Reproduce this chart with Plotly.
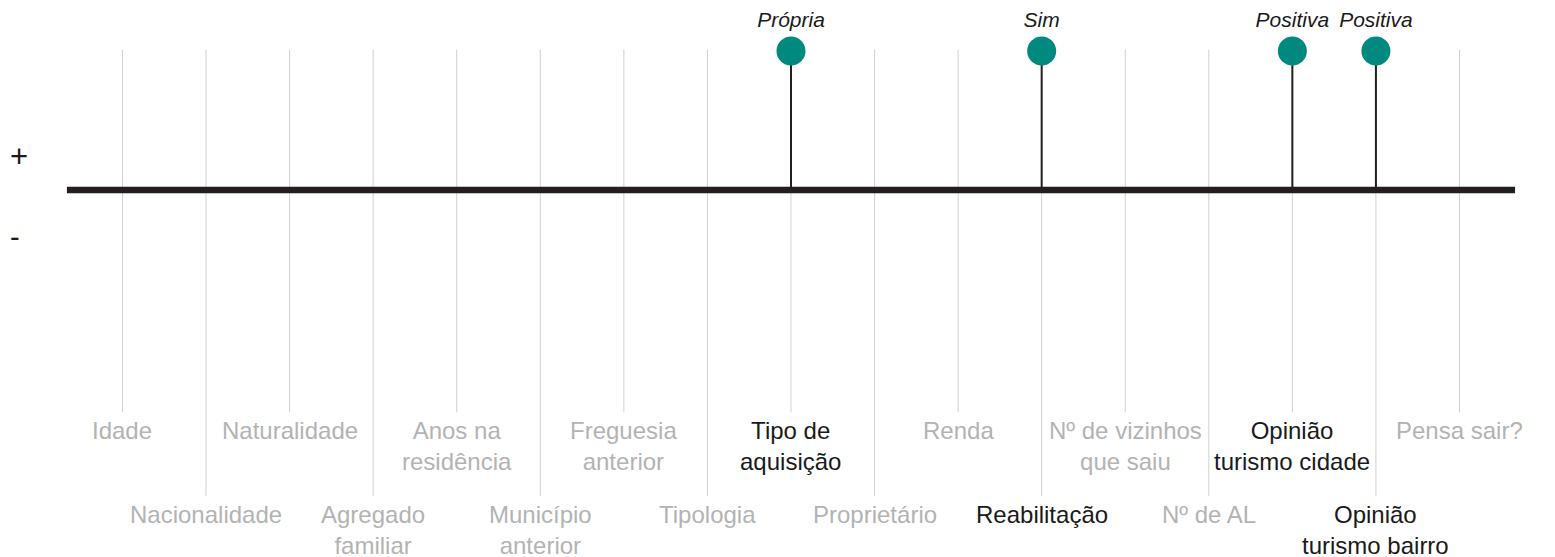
"""Lollipop strip: which household traits push towards a positive outcome."""
import plotly.graph_objects as go

CATEGORIES = [
    "Idade", "Nacionalidade", "Naturalidade", "Agregado<br>familiar",
    "Anos na<br>residência", "Município<br>anterior", "Freguesia<br>anterior",
    "Tipologia", "Tipo de<br>aquisição", "Proprietário", "Renda", "Reabilitação",
    "Nº de vizinhos<br>que saiu", "Nº de AL", "Opinião<br>turismo cidade",
    "Opinião<br>turismo bairro", "Pensa sair?",
]
EFFECT = [0, 0, 0, 0, 0, 0, 0, 0, 1, 0, 0, 1, 0, 0, 1, 1, 0]
EFFECT_LABEL = ["", "", "", "", "", "", "", "", "Própria", "", "", "Sim",
                "", "", "Positiva", "Positiva", ""]

TEAL = "#00897f"
INK = "#231f20"
GREY_TXT = "#b3b3b3"
DARK_TXT = "#1a1a1a"
GRID = "#d0d0d0"
FONT = "Helvetica, Arial, Liberation Sans, sans-serif"

TOP_END, BOT_END = -1.60, -2.20      # where the guide lines stop for each label row
TOP_LBL, BOT_LBL = -1.62, -2.225     # label anchors per row
PAD = 0.665                          # baseline overhang past first/last category
X_RANGE = [-1.370, 17.143]
Y_RANGE = [-2.640, 1.309]

idx = list(range(len(CATEGORIES)))

fig = go.Figure()

# light guide lines, alternating length for the staggered labels
gx, gy = [], []
for i in idx:
    gx += [i, i, None]
    gy += [1.01, TOP_END if i % 2 == 0 else BOT_END, None]
fig.add_trace(go.Scatter(x=gx, y=gy, mode="lines", line=dict(color=GRID, width=1),
                         hoverinfo="skip", showlegend=False))

# baseline
fig.add_trace(go.Scatter(x=[-PAD, idx[-1] + PAD], y=[0, 0], mode="lines",
                         line=dict(color=INK, width=6.5), hoverinfo="skip", showlegend=False))

# stems
hits = [i for i in idx if EFFECT[i]]
sx, sy = [], []
for i in hits:
    sx += [i, i, None]
    sy += [0, EFFECT[i], None]
fig.add_trace(go.Scatter(x=sx, y=sy, mode="lines", line=dict(color=INK, width=2),
                         hoverinfo="skip", showlegend=False))

# heads
fig.add_trace(go.Scatter(
    x=hits, y=[EFFECT[i] for i in hits], mode="markers+text",
    marker=dict(color=TEAL, size=29, line=dict(width=0)),
    text=[f"<i>{EFFECT_LABEL[i]}</i>" for i in hits], textposition="top center",
    textfont=dict(family=FONT, size=21, color=DARK_TXT),
    hovertemplate="%{text}<extra></extra>", showlegend=False,
))

for i in idx:
    fig.add_annotation(
        x=i, y=TOP_LBL if i % 2 == 0 else BOT_LBL, text=CATEGORIES[i],
        showarrow=False, xanchor="center", yanchor="top",
        font=dict(family=FONT, size=24, color=DARK_TXT if EFFECT[i] else GREY_TXT),
    )

fig.add_annotation(x=X_RANGE[0], y=0.24, text="+", showarrow=False, xanchor="left",
                   xshift=0, font=dict(family=FONT, size=31, color=DARK_TXT))
fig.add_annotation(x=X_RANGE[0], y=-0.34, text="-", showarrow=False, xanchor="left",
                   xshift=0, font=dict(family=FONT, size=29, color=DARK_TXT))

fig.update_layout(
    width=1547, height=549, margin=dict(l=0, r=0, t=0, b=0),
    paper_bgcolor="white", plot_bgcolor="white",
    xaxis=dict(range=X_RANGE, visible=False, fixedrange=True),
    yaxis=dict(range=Y_RANGE, visible=False, fixedrange=True),
)

fig.write_html("out.html")
